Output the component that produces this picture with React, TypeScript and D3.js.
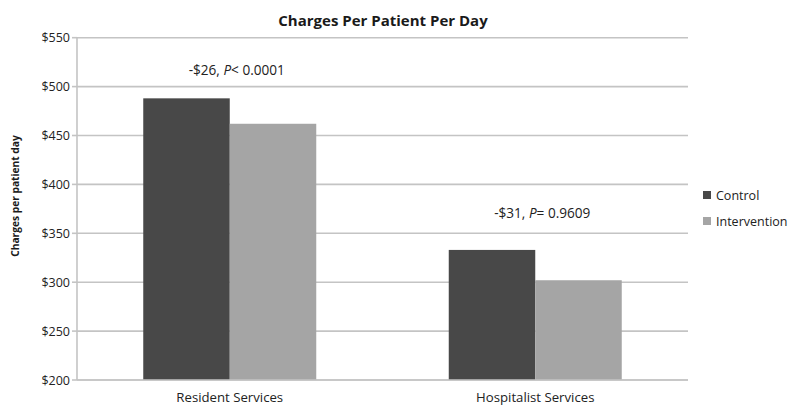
import React from "react";
import * as d3 from "d3";

const categories = ["Resident Services", "Hospitalist Services"];
const series = ["Control", "Intervention"];
const controlValues = [488, 333];
const interventionValues = [462, 302];
const annotations = ["-$26, ", "-$31, "];
const annotationP = ["< 0.0001", "= 0.9609"];
const annotationValues = [516, 370];
const yTicks = [200, 250, 300, 350, 400, 450, 500, 550];

const colors = ["#484848", "#a5a5a5"];
const font = "'Open Sans', 'Liberation Sans', sans-serif";

export default function App() {
  const left = 77, right = 688, top = 37.7, bottom = 380;
  const x = d3.scaleBand<string>().domain(categories).range([left, right]);
  const y = d3.scaleLinear().domain([200, 550]).range([bottom, top]);
  const inner = d3.scaleBand<string>().domain(series).range([0, 173]);
  const groupW = 173;
  const data = [controlValues, interventionValues];

  return (
    <svg width={800} height={412} style={{ position: "absolute", left: 0, top: 0, background: "#fff" }}>
      <text x={383} y={25.5} textAnchor="middle" fontFamily={font} fontWeight="bold" fontSize={15} fill="#1a1a1a">
        Charges Per Patient Per Day
      </text>
      {yTicks.map((t) => (
        <g key={t}>
          <line x1={left} x2={right} y1={y(t)} y2={y(t)} stroke="#c4c4c4" strokeWidth={1.6} />
          <line x1={left - 5} x2={left} y1={y(t)} y2={y(t)} stroke="#c4c4c4" strokeWidth={1.6} />
          <text x={left - 7} y={y(t) + 4.5} textAnchor="end" fontFamily={font} fontSize={12.5} fill="#222">
            {"$" + t}
          </text>
        </g>
      ))}
      <line x1={left} x2={left} y1={top} y2={bottom} stroke="#c4c4c4" strokeWidth={1.6} />
      {categories.map((c, i) => {
        const gx = (x(c) as number) + (x.bandwidth() - groupW) / 2;
        return (
          <g key={c}>
            {series.map((s, j) => (
              <rect
                key={s}
                x={gx + (inner(s) as number)}
                y={y(data[j][i])}
                width={inner.bandwidth()}
                height={bottom - y(data[j][i])}
                fill={colors[j]}
              />
            ))}
            <text x={(x(c) as number) + x.bandwidth() / 2} y={401.5} textAnchor="middle" fontFamily={font} fontSize={13.2} fill="#222">
              {c}
            </text>
            <text x={(x(c) as number) + x.bandwidth() / 2 + 7} y={y(annotationValues[i]) + 4.5} textAnchor="middle" fontFamily={font} fontSize={13.6} fill="#222">
              {annotations[i]}
              <tspan fontStyle="italic">P</tspan>
              {annotationP[i]}
            </text>
          </g>
        );
      })}
      <line x1={left} x2={right} y1={bottom} y2={bottom} stroke="#c4c4c4" strokeWidth={1.6} />
      <text transform={`translate(18.5, 196) rotate(-90)`} textAnchor="middle" fontFamily={font} fontWeight="bold" fontSize={10.2} fill="#1a1a1a">
        Charges per patient day
      </text>
      {series.map((s, j) => (
        <g key={s}>
          <rect x={703} y={191 + j * 26} width={8} height={8} fill={colors[j]} />
          <text x={716} y={199.5 + j * 26} fontFamily={font} fontSize={12.5} fill="#222">
            {s}
          </text>
        </g>
      ))}
    </svg>
  );
}
